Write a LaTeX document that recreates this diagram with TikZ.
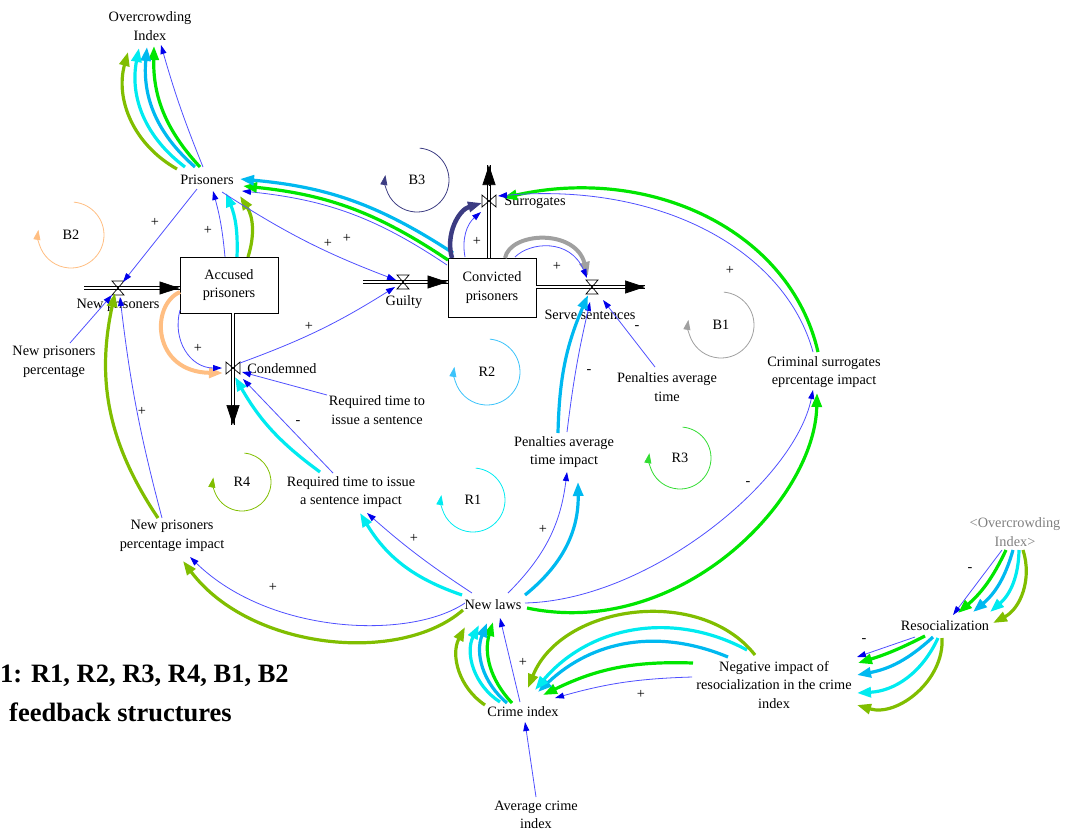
\documentclass[tikz,border=0pt]{standalone}
\usepackage{fontspec}
\setmainfont{Liberation Serif}
\usetikzlibrary{arrows.meta,calc}

\definecolor{lnkblue}{RGB}{80,80,255}
\definecolor{tipblue}{RGB}{0,0,235}
\definecolor{loopgreen}{RGB}{0,230,0}
\definecolor{loopsky}{RGB}{0,185,240}
\definecolor{loopcyan}{RGB}{0,235,240}
\definecolor{loopolive}{RGB}{128,190,0}
\definecolor{looppeach}{RGB}{255,190,130}
\definecolor{loopgray}{RGB}{160,160,160}
\definecolor{loopnavy}{RGB}{60,60,130}
\definecolor{markgreen}{RGB}{50,220,50}
\definecolor{marksky}{RGB}{60,195,250}

\tikzset{
  var/.style={align=center, inner sep=1pt},
  stockbox/.style={draw, line width=0.8pt, align=center, minimum width=98pt, minimum height=56pt},
  lnk/.style={lnkblue, line width=0.8pt, -{Triangle[length=9pt,width=6pt,color=tipblue]}},
  hot/.style={line width=3.2pt, -{Triangle[length=14pt,width=10pt]}},
  pipe/.style={double=white, double distance=2.5pt, line width=0.7pt},
  pipetip/.style={line width=0.7pt, -{Triangle[length=20pt,width=13pt]}},
  loopline/.style={line width=0.8pt, -{Triangle[length=10pt,width=7pt]}},
  sign/.style={inner sep=0pt},
  capt/.style={font=\fontsize{26.5}{30}\selectfont\bfseries, inner sep=0pt, anchor=west},
  valveh/.pic={\draw[line width=0.7pt] (-6,-7) -- (6,-7) -- (-6,7) -- (6,7) -- cycle;},
  valvev/.pic={\draw[line width=0.7pt] (-7,-6) -- (-7,6) -- (7,-6) -- (7,6) -- cycle;},
}
\def\loopmark[#1](#2)(#3)#4{\node (#4) at (#2) {#4};
  \draw[loopline,#1] ($(#2)+(-85:#3)$) arc[start angle=-85, end angle=189, radius=#3];}

\begin{document}
\begin{tikzpicture}[x=1pt, y=-1pt, font=\fontsize{14.3}{18.5}\selectfont]
  \useasboundingbox (0,0) rectangle (1067,836);

  %%%%% stocks and variables %%%%%
  \node[stockbox] (acc) at (229,285) {Accused\\prisoners};
  \node[stockbox, minimum width=88pt, minimum height=59pt] (conv) at (492,287.5) {Convicted\\prisoners};

  \node[var] (oci) at (150,26) {Overcrowding\\Index};
  \node[var] (pris) at (207,180) {Prisoners};
  \node[var] (npp) at (54,362) {New prisoners\\percentage};
  \node[var] (rts) at (377,410) {Required time to\\issue a sentence};
  \node[var] (rtsi) at (351,492) {Required time to issue\\a sentence impact};
  \node[var] (nppi) at (172,536) {New prisoners\\percentage impact};
  \node[var] (pat) at (667,387) {Penalties average\\time};
  \node[var] (pati) at (564,452) {Penalties average\\time impact};
  \node[var] (csi) at (824,372) {Criminal surrogates\\eprcentage impact};
  \node[var] (laws) at (493,605) {New laws};
  \node[var] (crime) at (523,712) {Crime index};
  \node[var] (aci) at (536,815) {Average crime\\index};
  \node[var] (neg) at (774,685) {Negative impact of\\resocialization in the crime\\index};
  \node[var] (reso) at (945,626) {Resocialization};
  \node[var, gray] (oci2) at (1015,532) {<Overcrowding\\Index>};

  %%%%% flows %%%%%
  \coordinate (vnew) at (118,288);
  \coordinate (vcond) at (233,368);
  \coordinate (vguilty) at (403,282);
  \coordinate (vsurr) at (489,201);
  \coordinate (vserve) at (592,287);
  \coordinate (npsrc) at (84,288);
  \coordinate (guiltysrc) at (363,282);
  \coordinate (condout) at (233,425);
  \coordinate (surrout) at (489,165);
  \coordinate (serveout) at (645,287);
  \coordinate (accin) at (acc.west |- vnew);
  \coordinate (accout) at (acc.south -| vcond);
  \coordinate (convin) at (conv.west |- vguilty);
  \coordinate (convtop) at (conv.north -| vsurr);
  \coordinate (convout) at (conv.east |- vserve);

  \draw[pipe] (npsrc) -- (accin);
  \draw[pipetip] ([shift={(-20,0)}]accin) -- (accin);
  \draw[pipe] (accout) -- (condout);
  \draw[pipetip] ([shift={(0,-20)}]condout) -- (condout);
  \draw[pipe] (guiltysrc) -- (convin);
  \draw[pipetip] ([shift={(-20,0)}]convin) -- (convin);
  \draw[pipe] (convtop) -- (surrout);
  \draw[pipetip] ([shift={(0,20)}]surrout) -- (surrout);
  \draw[pipe] (convout) -- (serveout);
  \draw[pipetip] ([shift={(-20,0)}]serveout) -- (serveout);

  \pic at (vnew) {valveh};
  \pic at (vguilty) {valveh};
  \pic at (vserve) {valveh};
  \pic at (vcond) {valvev};
  \pic at (vsurr) {valvev};

  \node[var] (lnew) at (118,305) {New prisoners};
  \node[var] (lcond) at (282,369) {Condemned};
  \node[var] (lguilty) at (404,302) {Guilty};
  \node[var] (lsurr) at (535,202) {Surrogates};
  \node[var] (lserve) at (590,315) {Serve sentences};

  %%%%% loop markers %%%%%
  \loopmark[looppeach](71,235)(33){B2}
  \loopmark[loopnavy](417,180)(32){B3}
  \loopmark[loopgray](721,325)(33){B1}
  \loopmark[marksky](487,372)(33){R2}
  \loopmark[markgreen](680,458)(31){R3}
  \loopmark[loopcyan](473,500)(32){R1}
  \loopmark[loopolive](242,482)(29){R4}

  %%%%% links %%%%%
  % prisoners -> overcrowding
  \draw[lnk] ([shift={(-4,-13)}]pris.center) to[bend left=3] ([shift={(11,19)}]oci.center);
  \draw[hot, loopgreen] ([shift={(-7,-13)}]pris.center) to[bend left=22] ([shift={(4,20)}]oci.center);
  \draw[hot, loopsky] ([shift={(-12,-13)}]pris.center) to[bend left=27] ([shift={(-3,21)}]oci.center);
  \draw[hot, loopcyan] ([shift={(-22,-13)}]pris.center) to[bend left=32] ([shift={(-11,22)}]oci.center);
  \draw[hot, loopolive] ([shift={(-30,-11)}]pris.center) to[bend left=38] ([shift={(-22,26)}]oci.center);

  \draw[lnk] ([shift={(-10,9)}]pris.center) -- ([shift={(5,-6)}]vnew);

  % accused -> prisoners
  \draw[lnk] ([shift={(-4,-28)}]acc.center) to[bend right=5] ([shift={(6,11)}]pris.center);
  \draw[hot, loopcyan] ([shift={(8,-28)}]acc.center) to[bend right=12] ([shift={(19,13)}]pris.center);
  \draw[hot, loopolive] ([shift={(19,-28)}]acc.center) to[bend right=25] ([shift={(33,16)}]pris.center);

  % convicted -> prisoners
  \draw[lnk] ([shift={(-45,-22.5)}]conv.center) to[bend right=14] ([shift={(35,11)}]pris.center);
  \draw[hot, loopgreen] ([shift={(-44,-27.5)}]conv.center) to[bend right=14] ([shift={(36,6)}]pris.center);
  \draw[hot, loopsky] ([shift={(-39,-34.5)}]conv.center) to[bend right=14] ([shift={(33,-1)}]pris.center);

  \draw[lnk] ([shift={(15,12)}]pris.center) to[bend right=6] ([shift={(-7,-2)}]vguilty);
  \draw[lnk] ([shift={(7,-5)}]vcond) to[bend right=6] ([shift={(-8,5)}]vguilty);

  % accused -> condemned
  \draw[hot, looppeach, line width=4pt] ([shift={(-49,7)}]acc.center) .. controls (150,305) and (152,372) .. ([shift={(-10,5)}]vcond);
  \draw[lnk] ([shift={(-49,25)}]acc.center) .. controls (172,340) and (190,368) .. ([shift={(-11,0)}]vcond);
  \draw[lnk] ([shift={(-50,-15)}]rts.center) -- ([shift={(9,4)}]vcond);
  \draw[lnk] ([shift={(-18,-19)}]rtsi.center) -- ([shift={(10,11)}]vcond);
  \draw[hot, loopcyan] ([shift={(-31,-20)}]rtsi.center) to[bend left=12] ([shift={(2,9)}]vcond);

  % new laws -> impacts
  \draw[lnk] ([shift={(-21,-12)}]laws.center) to[bend left=4] ([shift={(16,21)}]rtsi.center);
  \draw[hot, loopcyan] ([shift={(-31,-10)}]laws.center) to[bend left=20] ([shift={(9,21)}]rtsi.center);
  \draw[lnk] ([shift={(15,-12)}]laws.center) to[bend right=19] ([shift={(3,20)}]pati.center);
  \draw[hot, loopsky] ([shift={(32,-10)}]laws.center) to[bend right=26] ([shift={(14,30)}]pati.center);
  \draw[lnk] ([shift={(32,-2)}]laws.center) .. controls (650,600) and (795,480) .. ([shift={(-11,18)}]csi.center);
  \draw[hot, loopgreen] ([shift={(34,3)}]laws.center) .. controls (680,640) and (815,500) .. ([shift={(-7,21)}]csi.center);
  \draw[lnk] ([shift={(-28,-2)}]laws.center) .. controls (410,640) and (270,635) .. ([shift={(18,21)}]nppi.center);
  \draw[hot, loopolive] ([shift={(-30,5)}]laws.center) .. controls (400,665) and (250,650) .. ([shift={(11,25)}]nppi.center);

  % serve sentences
  \draw[lnk] ([shift={(3,-20)}]pati.center) to[bend left=3] ([shift={(-2,15)}]vserve);
  \draw[hot, loopsky] ([shift={(-6,-19)}]pati.center) to[bend left=11] ([shift={(-4,8)}]vserve);
  \draw[lnk] ([shift={(-12,-20)}]pat.center) -- ([shift={(11,13)}]vserve);
  \draw[hot, loopgray, line width=4pt] ([shift={(13,-29.5)}]conv.center) .. controls (510,232) and (575,228) .. ([shift={(-4,-11)}]vserve);
  \draw[lnk] ([shift={(23,-30.5)}]conv.center) .. controls (530,242) and (570,238) .. ([shift={(-5,-9)}]vserve);

  % surrogates
  \draw[hot, loopnavy, line width=4.5pt] ([shift={(-40,-29.5)}]conv.center) to[bend left=45] ([shift={(-7,2)}]vsurr);
  \draw[lnk] ([shift={(-27,-30.5)}]conv.center) to[bend left=30] ([shift={(-8,11)}]vsurr);
  \draw[hot, loopgreen] ([shift={(-6,-20)}]csi.center) .. controls (790,230) and (650,165) .. ([shift={(14,-3)}]vsurr);
  \draw[lnk] ([shift={(-11,-20)}]csi.center) .. controls (785,250) and (660,182) .. ([shift={(9,-5)}]vsurr);

  % new prisoners
  \draw[lnk] ([shift={(-10,-18)}]nppi.center) to[bend left=4] ([shift={(2,9)}]vnew);
  \draw[hot, loopolive] ([shift={(-14,-18)}]nppi.center) to[bend left=23] ([shift={(-3,5)}]vnew);
  \draw[lnk] ([shift={(16,-19)}]npp.center) -- ([shift={(-6,7)}]vnew);

  % crime index -> new laws
  \draw[lnk] ([shift={(-3,-10)}]crime.center) -- ([shift={(7,13)}]laws.center);
  \draw[hot, loopgreen] ([shift={(-11,-9)}]crime.center) to[bend left=30] ([shift={(0,17)}]laws.center);
  \draw[hot, loopsky] ([shift={(-16,-9)}]crime.center) to[bend left=36] ([shift={(-6,18)}]laws.center);
  \draw[hot, loopcyan] ([shift={(-23,-10)}]crime.center) to[bend left=42] ([shift={(-14,20)}]laws.center);
  \draw[hot, loopolive] ([shift={(-38,-7)}]crime.center) to[bend left=42] ([shift={(-28,22)}]laws.center);
  \draw[lnk] ([shift={(0,-18)}]aci.center) -- ([shift={(2,10)}]crime.center);

  % negative impact -> crime index
  \draw[lnk] ([shift={(-82,-8)}]neg.center) to[bend right=7] ([shift={(32,-14)}]crime.center);
  \draw[hot, loopgreen] ([shift={(-81,-22)}]neg.center) to[bend right=14] ([shift={(20,-17)}]crime.center);
  \draw[hot, loopsky] ([shift={(-46,-28)}]neg.center) to[bend right=33] ([shift={(15,-20)}]crime.center);
  \draw[hot, loopcyan] ([shift={(-27,-35)}]neg.center) to[bend right=39] ([shift={(12,-22)}]crime.center);
  \draw[hot, loopolive] ([shift={(-19,-30)}]neg.center) to[bend right=60] ([shift={(5,-24)}]crime.center);

  % resocialization
  \draw[lnk] ([shift={(-13,18)}]oci2.center) -- ([shift={(8,-11)}]reso.center);
  \draw[hot, loopgreen] ([shift={(-9,18)}]oci2.center) to[bend left=12] ([shift={(13,-13)}]reso.center);
  \draw[hot, loopsky] ([shift={(-2,18)}]oci2.center) to[bend left=17] ([shift={(28,-14)}]reso.center);
  \draw[hot, loopcyan] ([shift={(4,18)}]oci2.center) to[bend left=24] ([shift={(45,-14)}]reso.center);
  \draw[hot, loopolive] ([shift={(8,18)}]oci2.center) to[bend left=40] ([shift={(48,-3)}]reso.center);
  \draw[lnk] ([shift={(-30,11)}]reso.center) -- ([shift={(83,-28)}]neg.center);
  \draw[hot, loopgreen] ([shift={(-20,10)}]reso.center) to[bend left=5] ([shift={(84,-22)}]neg.center);
  \draw[hot, loopsky] ([shift={(-12,11)}]reso.center) to[bend left=16] ([shift={(83,-10)}]neg.center);
  \draw[hot, loopcyan] ([shift={(-7,12)}]reso.center) to[bend left=31] ([shift={(83,8)}]neg.center);
  \draw[hot, loopolive] ([shift={(-3,12)}]reso.center) to[bend left=55] ([shift={(83,20)}]neg.center);

  %%%%% polarities %%%%%
  \node[sign] (s1) at (155,222) {+};
  \node[sign] (s2) at (208,230) {+};
  \node[sign] (s3) at (328,243) {+};
  \node[sign] (s4) at (347,238) {+};
  \node[sign] (s5) at (198,348) {+};
  \node[sign] (s6) at (309,326) {+};
  \node[sign] (s7) at (477,241) {+};
  \node[sign] (s8) at (557,266) {+};
  \node[sign] (s9) at (637,328) {-};
  \node[sign] (s10) at (589,372) {-};
  \node[sign] (s11) at (730,270) {+};
  \node[sign] (s12) at (298,423) {-};
  \node[sign] (s13) at (142,411) {+};
  \node[sign] (s14) at (414,538) {+};
  \node[sign] (s15) at (543,529) {+};
  \node[sign] (s16) at (748,484) {-};
  \node[sign] (s17) at (273,587) {+};
  \node[sign] (s18) at (523,662) {+};
  \node[sign] (s19) at (641,694) {+};
  \node[sign] (s20) at (970,570) {-};
  \node[sign] (s21) at (864,641) {-};

  %%%%% caption %%%%%
  \node[capt] (cap1) at (0,676) {1: R1, R2, R3, R4, B1, B2};
  \node[capt] (cap2) at (9,712) {feedback structures};
\end{tikzpicture}
\end{document}
